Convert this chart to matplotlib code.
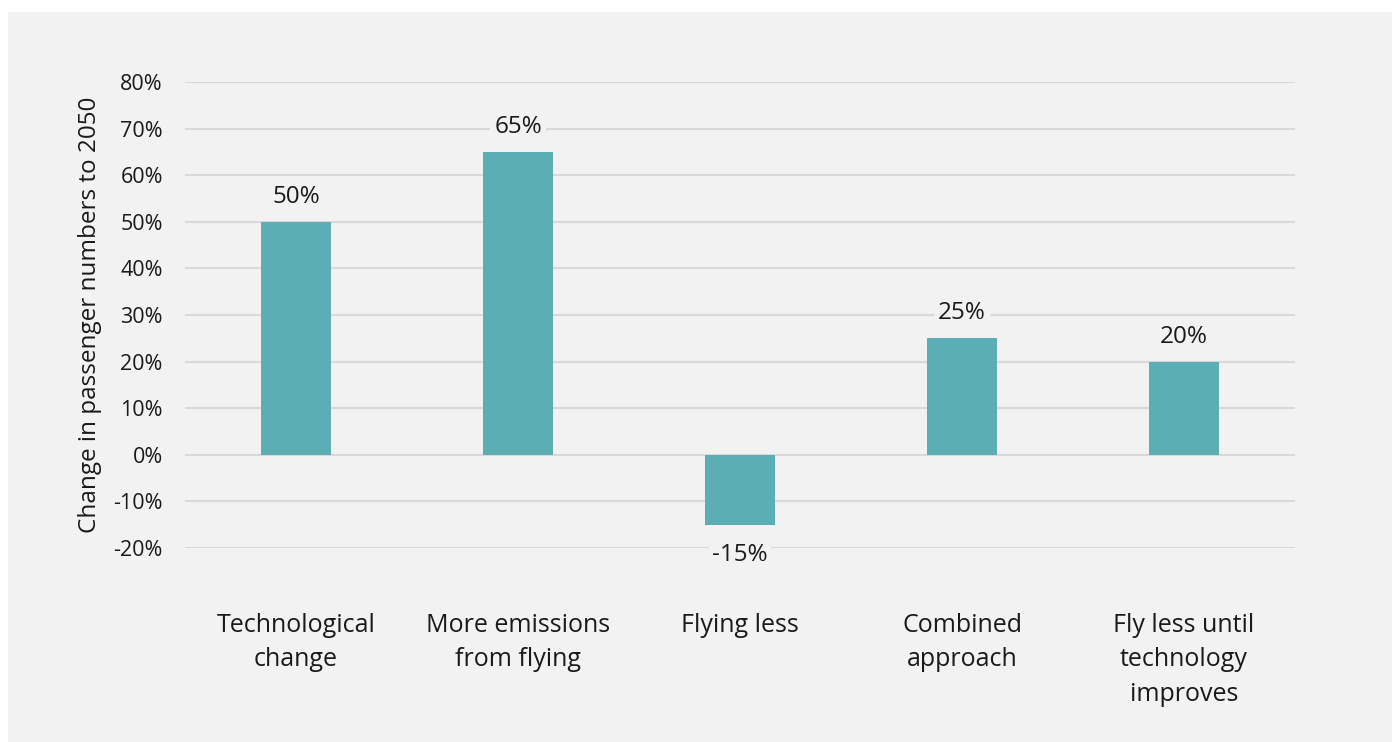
import matplotlib
matplotlib.use("Agg")
import matplotlib.pyplot as plt
from matplotlib.patches import Rectangle
from matplotlib.ticker import FuncFormatter

categories = ["Technological\nchange", "More emissions\nfrom flying", "Flying less",
              "Combined\napproach", "Fly less until\ntechnology\nimproves"]
values = [50, 65, -15, 25, 20]
y_ticks = [-20, -10, 0, 10, 20, 30, 40, 50, 60, 70, 80]
y_label = "Change in passenger numbers to 2050"

BAR = "#5aaeb4"
PANEL = "#f2f2f2"
GRID = "#d9d9d9"
TEXT = "#1a1a1a"

plt.rcParams["font.family"] = ["Open Sans", "DejaVu Sans"]

W, H = 1392, 742
fig = plt.figure(figsize=(W / 100, H / 100), dpi=100, facecolor="white")
fig.patches.append(Rectangle((8 / W, 0), 1 - 8 / W, 1 - 12 / H,
                             transform=fig.transFigure, facecolor=PANEL,
                             edgecolor="none", zorder=-10))

ax = fig.add_axes([185 / W, 1 - 548 / H, (1295 - 185) / W, (548 - 82) / H])
ax.patch.set_alpha(0)

x = list(range(len(categories)))
ax.bar(x, values, width=0.315, color=BAR, zorder=3)

ax.set_xlim(-0.5, len(categories) - 0.5)
ax.set_ylim(min(y_ticks), max(y_ticks))
ax.set_yticks(y_ticks)
ax.yaxis.set_major_formatter(FuncFormatter(lambda v, p: f"{v:.0f}%"))
ax.grid(axis="y", color=GRID, linewidth=1.5, zorder=0)
ax.set_axisbelow(True)
for s in ax.spines.values():
    s.set_visible(False)
ax.tick_params(axis="y", length=0, pad=16, labelsize=15.5, labelcolor=TEXT)
ax.tick_params(axis="x", length=0, pad=0)
ax.set_xticks(x)
ax.set_xticklabels([])

for xi, lab in zip(x, categories):
    ax.annotate(lab, xy=(xi, 0), xycoords=("data", "axes fraction"),
                xytext=(0, -46.5), textcoords="offset points",
                ha="center", va="top", fontsize=18, color=TEXT,
                linespacing=1.52)

for xi, v in zip(x, values):
    off = 18 if v >= 0 else -22
    ax.annotate(f"{v}%", xy=(xi, v), xytext=(0, off), textcoords="offset points",
                ha="center", va="center", fontsize=17.5, color=TEXT, zorder=5,
                bbox=dict(boxstyle="square,pad=0.15", facecolor=PANEL, edgecolor="none"))

fig.text(90 / W, 1 - 315 / H, y_label, rotation=90, ha="center", va="center",
         fontsize=17.5, color=TEXT)

fig.savefig("out.png", dpi=100, facecolor=fig.get_facecolor())
